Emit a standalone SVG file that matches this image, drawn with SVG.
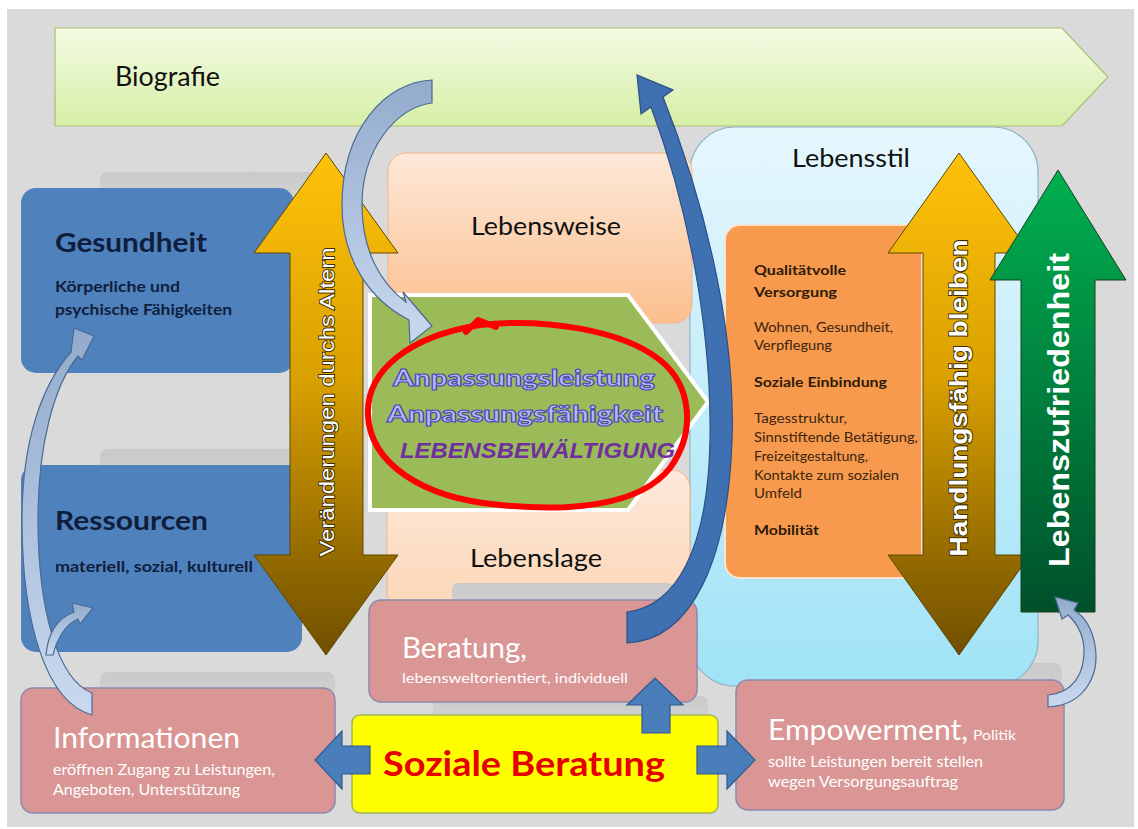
<svg xmlns="http://www.w3.org/2000/svg" width="1138" height="829" viewBox="0 0 1138 829">
<defs>
<style>
.f{font-family:Lato,'Open Sans','Liberation Sans',sans-serif}
.lbl{font-family:Lato,'Open Sans','Liberation Sans',sans-serif;font-size:25px;fill:#111}
.head{font-family:Lato,'Open Sans','Liberation Sans',sans-serif;font-size:27px;font-weight:bold;fill:#0f1e3c}
.sub{font-family:Lato,'Open Sans','Liberation Sans',sans-serif;font-size:15px;font-weight:bold;fill:#0f1e3c}
.wt{font-family:Lato,'Open Sans','Liberation Sans',sans-serif;fill:#fff}
.or{font-family:Lato,'Open Sans','Liberation Sans',sans-serif;font-size:13.5px;fill:#3b2410}
.orb{font-family:Lato,'Open Sans','Liberation Sans',sans-serif;font-size:13.5px;font-weight:bold;fill:#2e1a08}
.blue{fill:#4a7ebb;stroke:#2f5a8f;stroke-width:1.2}
.pink{fill:#d99694;stroke:#8f88ad;stroke-width:1.5}
.shadow{fill:url(#gShadow)}
.light{fill:url(#gLight);stroke:#4a6a94;stroke-width:1.2}
.rot{font-family:'Liberation Sans',Arial,sans-serif;fill:#fff;paint-order:stroke}
.anp{font-family:Lato,'Liberation Sans',Arial,sans-serif;font-size:23px;font-weight:900;fill:#b9b9f6;stroke:#4848b8;stroke-width:1.1}
</style>
<linearGradient id="gBio" x1="0" y1="0" x2="0" y2="1"><stop offset="0" stop-color="#f3fbe4"/><stop offset="1" stop-color="#d6efa6"/></linearGradient>
<linearGradient id="gStil" x1="0" y1="0" x2="0" y2="1"><stop offset="0" stop-color="#e6f7fd"/><stop offset="1" stop-color="#a0e3f7"/></linearGradient>
<linearGradient id="gWeise" x1="0" y1="0" x2="0" y2="1"><stop offset="0" stop-color="#fde8d8"/><stop offset="1" stop-color="#fbbf8e"/></linearGradient>
<linearGradient id="gLage" x1="0" y1="0" x2="0" y2="1"><stop offset="0" stop-color="#fde9da"/><stop offset="1" stop-color="#fcd6b6"/></linearGradient>
<linearGradient id="gGold" x1="0" y1="0" x2="0" y2="1"><stop offset="0" stop-color="#ffc20a"/><stop offset="0.45" stop-color="#d9a000"/><stop offset="1" stop-color="#6f4e00"/></linearGradient>
<linearGradient id="gGreen" x1="0" y1="0" x2="0" y2="1"><stop offset="0" stop-color="#00b050"/><stop offset="1" stop-color="#00502a"/></linearGradient>
<linearGradient id="gLight" x1="0" y1="0" x2="0" y2="1"><stop offset="0" stop-color="#93abcc"/><stop offset="1" stop-color="#c9d9ef"/></linearGradient>
<linearGradient id="gShadow" x1="0" y1="0" x2="0" y2="1"><stop offset="0" stop-color="#c9c9c9"/><stop offset="1" stop-color="#d3d3d3"/></linearGradient>
</defs>

<rect x="7" y="9" width="1127" height="818" fill="#dadada"/>

<g id="biografie">
<path d="M55,28 L1062,28 L1108,77 L1062,126 L55,126 Z" fill="url(#gBio)" stroke="#a9bf73" stroke-width="1.2"/>
<text class="f" x="115" y="86" font-size="26" fill="#111" textLength="105" lengthAdjust="spacingAndGlyphs">Biografie</text>
</g>

<g id="shadows">
<rect class="shadow" x="100" y="172" width="232" height="30" rx="8"/>
<rect class="shadow" x="100" y="449" width="232" height="30" rx="8"/>
<rect class="shadow" x="100" y="672" width="235" height="30" rx="8"/>
<rect class="shadow" x="817" y="663" width="245" height="30" rx="8"/>
<rect class="shadow" x="433" y="696" width="275" height="24" rx="6"/>
</g>

<g id="lebensstil">
<rect x="690" y="127" width="348" height="559" rx="45" fill="url(#gStil)" stroke="#8fb6c6" stroke-width="1.2"/>
<text class="lbl" x="851" y="167" text-anchor="middle" textLength="118" lengthAdjust="spacingAndGlyphs">Lebensstil</text>
</g>

<g id="lebensweise">
<rect x="388" y="153" width="304" height="170" rx="18" fill="url(#gWeise)" stroke="#f2b48a" stroke-width="1"/>
<text class="lbl" x="546" y="235" text-anchor="middle" textLength="150" lengthAdjust="spacingAndGlyphs">Lebensweise</text>
</g>

<g id="lebenslage">
<rect x="387" y="470" width="303" height="140" rx="18" fill="url(#gLage)" stroke="#f2b48a" stroke-width="1"/>
<text class="lbl" x="536" y="567" text-anchor="middle" textLength="132" lengthAdjust="spacingAndGlyphs">Lebenslage</text>
<rect class="shadow" x="452" y="583" width="222" height="30" rx="6"/>
</g>

<g id="gesundheit">
<rect x="21" y="188" width="273" height="185" rx="15" fill="#4f81bd"/>
<text class="head" x="55" y="252" textLength="152" lengthAdjust="spacingAndGlyphs">Gesundheit</text>
<text class="sub" x="55" y="292" textLength="125" lengthAdjust="spacingAndGlyphs">Körperliche und</text>
<text class="sub" x="55" y="315" textLength="177" lengthAdjust="spacingAndGlyphs">psychische Fähigkeiten</text>
</g>

<g id="ressourcen">
<rect x="21" y="465" width="281" height="187" rx="15" fill="#4f81bd"/>
<text class="head" x="55" y="530" textLength="153" lengthAdjust="spacingAndGlyphs">Ressourcen</text>
<text class="sub" x="55" y="572" textLength="198" lengthAdjust="spacingAndGlyphs">materiell, sozial, kulturell</text>
</g>

<g id="versorgung">
<rect x="725" y="225" width="197" height="353" rx="15" fill="#f79a4d" stroke="#fbe3cf" stroke-width="2"/>
<text class="orb" x="754" y="275" textLength="92" lengthAdjust="spacingAndGlyphs">Qualitätvolle</text>
<text class="orb" x="754" y="297" textLength="83" lengthAdjust="spacingAndGlyphs">Versorgung</text>
<text class="or" x="754" y="332" textLength="139" lengthAdjust="spacingAndGlyphs">Wohnen, Gesundheit,</text>
<text class="or" x="754" y="350" textLength="78" lengthAdjust="spacingAndGlyphs">Verpflegung</text>
<text class="orb" x="754" y="387" textLength="133" lengthAdjust="spacingAndGlyphs">Soziale Einbindung</text>
<text class="or" x="754" y="423" textLength="93" lengthAdjust="spacingAndGlyphs">Tagesstruktur,</text>
<text class="or" x="754" y="442" textLength="164" lengthAdjust="spacingAndGlyphs">Sinnstiftende Betätigung,</text>
<text class="or" x="754" y="461" textLength="114" lengthAdjust="spacingAndGlyphs">Freizeitgestaltung,</text>
<text class="or" x="754" y="480" textLength="145" lengthAdjust="spacingAndGlyphs">Kontakte zum sozialen</text>
<text class="or" x="754" y="498" textLength="48" lengthAdjust="spacingAndGlyphs">Umfeld</text>
<text class="orb" x="754" y="535" textLength="65" lengthAdjust="spacingAndGlyphs">Mobilität</text>
</g>

<g id="anpassung">
<path d="M370,295 L628,295 L708,402 L628,510 L370,510 Z" fill="#9bbb59" stroke="#ffffff" stroke-width="4"/>
<text class="anp" x="393" y="386" textLength="262" lengthAdjust="spacingAndGlyphs">Anpassungsleistung</text>
<text class="anp" x="387" y="422" textLength="276" lengthAdjust="spacingAndGlyphs">Anpassungsfähigkeit</text>
<text x="400" y="458" font-family="'Liberation Sans',Arial,sans-serif" font-size="22" font-weight="bold" font-style="italic" fill="#7030a0" textLength="275" lengthAdjust="spacingAndGlyphs">LEBENSBEWÄLTIGUNG</text>
<path d="M480,325 C545,318 622,330 660,360 C692,386 696,432 670,468 C640,506 570,512 500,505 C420,498 370,462 368,415 C366,370 410,336 480,325 Z" fill="none" stroke="#ff0000" stroke-width="6" stroke-linejoin="round"/>
<path d="M466,332 L478,320 L496,327" fill="none" stroke="#ff0000" stroke-width="6" stroke-linecap="round" stroke-linejoin="round"/>
</g>

<g id="veraenderungen">
<path d="M326,153 L398,253 L363,253 L363,555 L398,555 L326,655 L254,555 L290,555 L290,253 L254,253 Z" fill="url(#gGold)" stroke="#5e4600" stroke-width="1"/>
<text class="rot" transform="translate(334,402) rotate(-90)" text-anchor="middle" font-size="21" stroke="#3d2d00" stroke-width="1.8" textLength="309" lengthAdjust="spacingAndGlyphs">Veränderungen durchs Altern</text>
</g>

<g id="handlungsfaehig">
<path d="M959,153 L1030,253 L995,253 L995,555 L1030,555 L959,655 L888,555 L923,555 L923,253 L888,253 Z" fill="url(#gGold)" stroke="#5e4600" stroke-width="1"/>
<text class="rot" transform="translate(967,398) rotate(-90)" text-anchor="middle" font-size="24" font-weight="bold" stroke="#3d2d00" stroke-width="1.8" textLength="317" lengthAdjust="spacingAndGlyphs">Handlungsfähig bleiben</text>
</g>

<g id="lebenszufriedenheit">
<path d="M1058,170 L1126,280 L1095,280 L1095,612 L1021,612 L1021,280 L990,280 Z" fill="url(#gGreen)" stroke="#17401f" stroke-width="1"/>
<text class="rot" transform="translate(1069,410) rotate(-90)" text-anchor="middle" font-size="30" font-weight="bold" textLength="314" lengthAdjust="spacingAndGlyphs">Lebenszufriedenheit</text>
</g>

<g id="beratung">
<rect class="pink" x="369" y="600" width="328" height="102" rx="12"/>
<text class="wt" x="402" y="658" font-size="28" textLength="125" lengthAdjust="spacingAndGlyphs">Beratung,</text>
<text class="wt" x="402" y="683" font-size="13.5" textLength="226" lengthAdjust="spacingAndGlyphs">lebensweltorientiert, individuell</text>
</g>

<g id="informationen">
<rect class="pink" x="21" y="688" width="314" height="125" rx="12"/>
<text class="wt" x="53" y="748" font-size="29" textLength="187" lengthAdjust="spacingAndGlyphs">Informationen</text>
<text class="wt" x="53" y="775" font-size="14.5" textLength="222" lengthAdjust="spacingAndGlyphs">eröffnen Zugang zu Leistungen,</text>
<text class="wt" x="53" y="795" font-size="14.5" textLength="187" lengthAdjust="spacingAndGlyphs">Angeboten, Unterstützung</text>
</g>

<g id="empowerment">
<rect class="pink" x="736" y="680" width="328" height="130" rx="12"/>
<text class="wt" x="768" y="740" font-size="29" textLength="200" lengthAdjust="spacingAndGlyphs">Empowerment,</text>
<text class="wt" x="973" y="740" font-size="14" textLength="43" lengthAdjust="spacingAndGlyphs">Politik</text>
<text class="wt" x="768" y="767" font-size="14.5" textLength="215" lengthAdjust="spacingAndGlyphs">sollte Leistungen bereit stellen</text>
<text class="wt" x="768" y="787" font-size="14.5" textLength="190" lengthAdjust="spacingAndGlyphs">wegen Versorgungsauftrag</text>
</g>

<g id="soziale-beratung">
<rect x="352" y="715" width="366" height="98" rx="8" fill="#ffff00" stroke="#a3b25e" stroke-width="1.5"/>
<text x="383" y="776" font-family="Lato,'Open Sans','Liberation Sans',sans-serif" font-size="34" font-weight="bold" fill="#e60000" textLength="282" lengthAdjust="spacingAndGlyphs">Soziale Beratung</text>
</g>

<g id="connectors">
<path class="blue" d="M370,746 L342,746 L342,731 L315,760 L342,789 L342,774 L370,774 Z"/>
<path class="blue" d="M697,746 L727,746 L727,731 L755,760 L727,789 L727,774 L697,774 Z"/>
<path class="blue" d="M642,733 L642,705 L627,705 L655,678 L683,705 L670,705 L670,733 Z"/>
<path class="light" d="M432,80 L432,103 C395,108 362,150 362,205 C362,250 380,283 406,302 L403,292 L432,326 L410,343 L409,320 C370,300 342,260 342,205 C342,130 385,82 432,80 Z"/>
<path d="M627,643 C692,640 728,560 732,440 C736,320 700,190 663,97 L673,90 L637,75 L641,114 L651,107 C684,195 712,320 710,440 C708,550 676,606 627,612 Z" fill="#3f70b2" stroke="#2b5185" stroke-width="1.2"/>
<path class="light" d="M92,715 C45,702 22,620 22,520 C22,440 42,385 71,352 L74,328 L94,336 L82,360 L78,356 C54,385 38,445 38,520 C38,610 58,680 92,693 Z"/>
<path class="light" d="M46,655 C48,632 58,618 74,612 L72,603 L93,608 L80,624 L78,619 C66,624 57,638 53,655 Z"/>
<path class="light" d="M1048,707 C1085,705 1100,675 1095,645 C1092,628 1085,617 1074,610 L1078,603 L1055,597 L1062,619 L1068,615 C1078,624 1083,635 1084,648 C1085,675 1072,693 1048,695 Z"/>
</g>
</svg>
